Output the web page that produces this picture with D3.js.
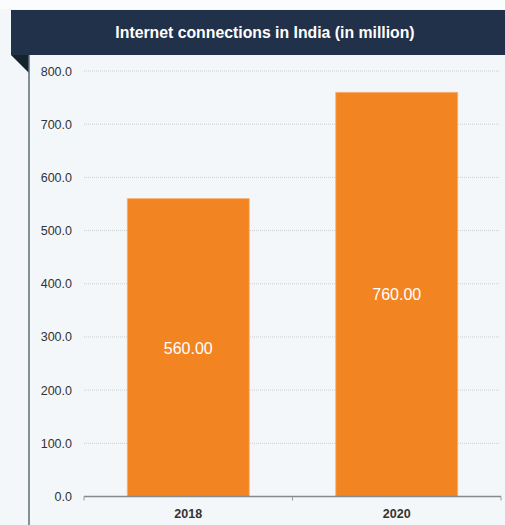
<!DOCTYPE html>
<html><head><meta charset="utf-8">
<script src="https://cdn.jsdelivr.net/npm/d3@7"></script>
<style>body{margin:0;background:#fff;}svg{display:block;}</style>
</head><body>
<script>
const categories = ["2018", "2020"];
const values = [560, 760];
const yTicks = [0, 100, 200, 300, 400, 500, 600, 700, 800];
const title = "Internet connections in India (in million)";

(function () {
const W = 505, H = 525;
const svg = d3.select("body").append("svg").attr("width", W).attr("height", H);
svg.append("rect").attr("width", W).attr("height", H).attr("fill", "#f4f7f9");
svg.append("rect").attr("width", W).attr("height", 9).attr("fill", "#fbfcfd");

const font = "Liberation Sans, Arial, sans-serif";
// header
svg.append("rect").attr("x", 11).attr("y", 10).attr("width", W - 11).attr("height", 45).attr("fill", "#22314a");
svg.append("text").attr("x", 265).attr("y", 38).attr("text-anchor", "middle")
  .attr("font-family", font).attr("font-weight", "bold").attr("font-size", 15.8).attr("fill", "#ffffff").text(title);
// fold
svg.append("path").attr("d", "M11,55 L29,55 L29,73 Z").attr("fill", "#14232c");
svg.append("line").attr("x1", 29).attr("x2", 29).attr("y1", 55).attr("y2", H).attr("stroke", "#5f6d74").attr("stroke-width", 1.5);

const mLeft = 84, mRight = 501, mTop = 71, mBottom = 496.5;
const x = d3.scaleBand().domain(categories).range([mLeft, mRight]).paddingInner(0.415).paddingOuter(0.2075);
const y = d3.scaleLinear().domain([0, 800]).range([mBottom, mTop]);

// grid
svg.append("g").selectAll("line").data(yTicks.filter(d => d > 0)).join("line")
  .attr("x1", mLeft).attr("x2", 500).attr("y1", d => y(d)).attr("y2", d => y(d))
  .attr("stroke", "#c9cfd3").attr("stroke-width", 1).attr("stroke-dasharray", "1,1");

// y labels
svg.append("g").selectAll("text").data(yTicks).join("text")
  .attr("x", 72).attr("y", d => y(d) + 4.5).attr("text-anchor", "end")
  .attr("font-family", font).attr("font-size", 12.5).attr("fill", "#333").text(d => d.toFixed(1));

// bars
svg.append("g").selectAll("rect").data(values).join("rect")
  .attr("x", (d, i) => x(categories[i])).attr("width", x.bandwidth())
  .attr("y", d => y(d)).attr("height", d => mBottom - y(d))
  .attr("fill", "#f28522").attr("stroke", "#f7b176").attr("stroke-width", 0.8);

svg.append("g").selectAll("text").data(values).join("text")
  .attr("x", (d, i) => x(categories[i]) + x.bandwidth() / 2)
  .attr("y", d => (y(d) + mBottom) / 2 + 6).attr("text-anchor", "middle")
  .attr("font-family", font).attr("font-size", 16).attr("fill", "#ffffff").text(d => d.toFixed(2));

// x axis
const xAxis = d3.axisBottom(x).tickSize(0).tickPadding(13);
const gx = svg.append("g").attr("transform", `translate(0,${mBottom})`).call(xAxis);
gx.select(".domain").remove();
gx.selectAll("text").attr("font-family", font).attr("font-size", 12.5).attr("font-weight", "bold").attr("fill", "#333");
svg.append("line").attr("x1", mLeft).attr("x2", mRight).attr("y1", mBottom).attr("y2", mBottom).attr("stroke", "#888").attr("stroke-width", 1.5);
const bounds = [mLeft, (mLeft + mRight) / 2, mRight];
svg.append("g").selectAll("line").data(bounds).join("line")
  .attr("x1", d => d).attr("x2", d => d).attr("y1", mBottom).attr("y2", mBottom + 4)
  .attr("stroke", "#999").attr("stroke-width", 1);
})();
</script>
</body></html>
